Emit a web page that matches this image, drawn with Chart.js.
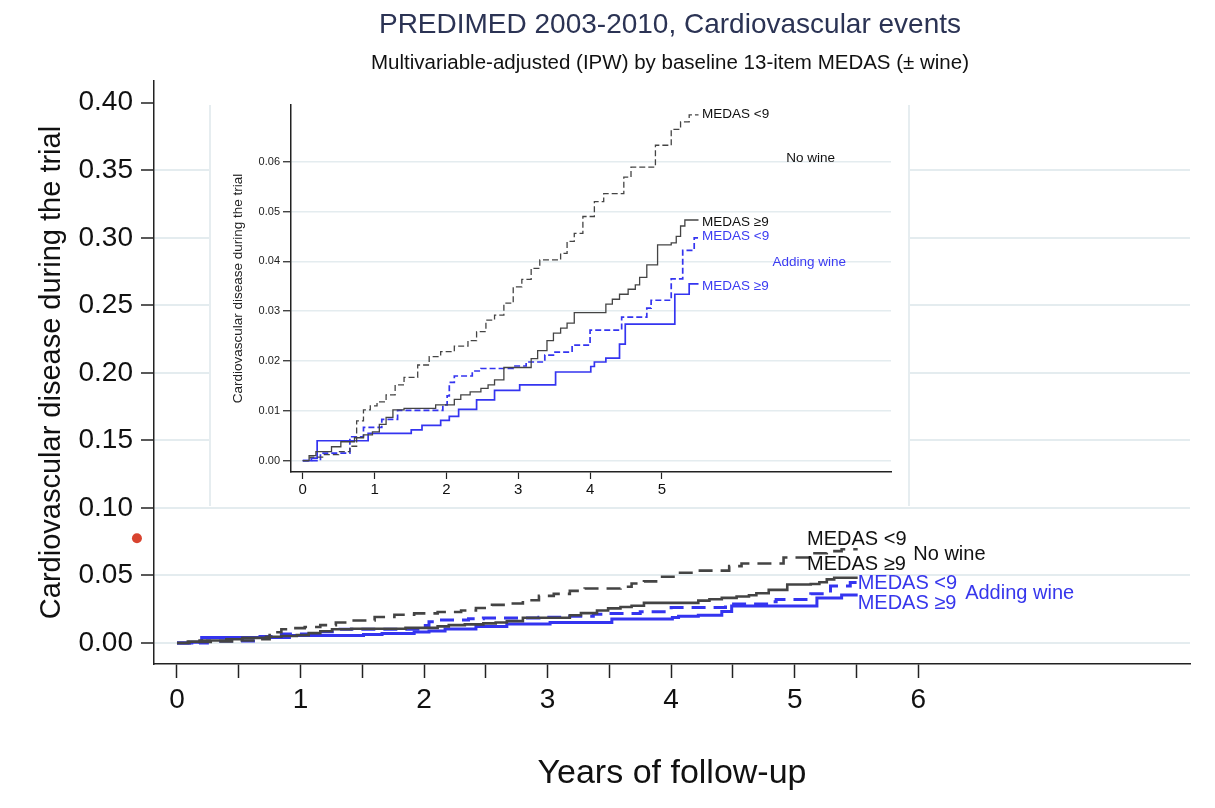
<!DOCTYPE html>
<html>
<head>
<meta charset="utf-8">
<script src="https://cdn.jsdelivr.net/npm/chart.js@4.4.0/dist/chart.umd.min.js"></script>
<style>
  html, body { margin: 0; padding: 0; background: #fff; overflow: hidden; }
  #page { position: relative; width: 1215px; height: 808px; font-family: "Liberation Sans", Arial, sans-serif; }
  #main { position: absolute; left: 0; top: 0; }
  #insetBox { position: absolute; left: 209px; top: 105px; width: 697px; height: 401px; background: #fff;
              border-left: 2px solid #e6edf0; border-right: 2px solid #e6edf0; }
  #inset { position: absolute; left: 210px; top: 85px; }
  .ttl { position: absolute; left: 320px; width: 700px; text-align: center; white-space: nowrap; }
</style>
</head>
<body>
<div id="page">
  <canvas id="main" width="1215" height="808"></canvas>
  <div id="insetBox"></div>
  <canvas id="inset" width="697" height="423"></canvas>
  <div class="ttl" style="top:8px;font-size:28px;line-height:32px;color:#2b3354;">PREDIMED 2003-2010, Cardiovascular events</div>
  <div class="ttl" style="top:51px;font-size:20.5px;line-height:22px;color:#111;">Multivariable-adjusted (IPW) by baseline 13-item MEDAS (± wine)</div>
</div>
<script>
// cumulative incidence, step curves (time in years, proportion)
const noWineLowT = [0, 0.10, 0.30, 0.50, 0.656, 0.75, 0.845, 0.94, 1.034, 1.16, 1.286, 1.41, 1.60, 1.76, 1.92, 2.11, 2.30, 2.42, 2.55, 2.67, 2.80, 2.93, 3.05, 3.18, 3.30, 3.59, 3.68, 3.78, 3.90, 4.06, 4.19, 4.47, 4.57, 4.91, 5.13, 5.26, 5.38, 5.51];
const noWineLowV = [0, 0.0007, 0.0012, 0.0018, 0.0029, 0.008, 0.0102, 0.011, 0.0118, 0.0132, 0.0152, 0.0167, 0.0192, 0.0209, 0.0219, 0.023, 0.0241, 0.0259, 0.0282, 0.0292, 0.0316, 0.0349, 0.0364, 0.0386, 0.0403, 0.0416, 0.044, 0.0456, 0.049, 0.052, 0.0536, 0.0569, 0.0589, 0.0633, 0.0665, 0.068, 0.0694, 0.0694];

const noWineHighT = [0, 0.088, 0.183, 0.40, 0.53, 0.72, 0.845, 0.97, 1.066, 1.16, 1.255, 1.41, 1.85, 2.11, 2.20, 2.33, 2.48, 2.58, 2.67, 2.80, 3.18, 3.27, 3.40, 3.49, 3.59, 3.68, 3.78, 4.22, 4.31, 4.41, 4.53, 4.63, 4.69, 4.79, 4.94, 5.13, 5.20, 5.26, 5.32, 5.51];
const noWineHighV = [0, 0.001, 0.0018, 0.0028, 0.0038, 0.0046, 0.0052, 0.0058, 0.0073, 0.0087, 0.0102, 0.0105, 0.0112, 0.0123, 0.0132, 0.0138, 0.0145, 0.0152, 0.0162, 0.0187, 0.0205, 0.0221, 0.0241, 0.0256, 0.0266, 0.0276, 0.0297, 0.0314, 0.0324, 0.0334, 0.0344, 0.0353, 0.0368, 0.0393, 0.0433, 0.0437, 0.045, 0.0471, 0.0483, 0.0483];

const wineLowT = [0, 0.246, 0.656, 0.845, 1.10, 1.32, 1.95, 2.01, 2.04, 2.11, 2.36, 2.48, 2.93, 3.11, 3.37, 3.49, 3.75, 4.0, 4.44, 4.79, 4.85, 5.13, 5.29, 5.45, 5.51];
const wineLowV = [0, 0.0015, 0.0048, 0.0067, 0.0083, 0.0101, 0.0112, 0.013, 0.0157, 0.017, 0.018, 0.0185, 0.019, 0.0198, 0.0212, 0.0218, 0.0232, 0.0262, 0.0288, 0.0306, 0.0322, 0.0365, 0.0422, 0.0447, 0.0447];

const wineHighT = [0, 0.12, 0.20, 0.91, 1.51, 1.66, 1.92, 2.04, 2.17, 2.42, 2.67, 3.02, 3.52, 4.01, 4.06, 4.22, 4.41, 4.49, 5.18, 5.38, 5.51];
const wineHighV = [0, 0.0005, 0.004, 0.0055, 0.0062, 0.0071, 0.0081, 0.0089, 0.0103, 0.0122, 0.0141, 0.0152, 0.0178, 0.0189, 0.0198, 0.0206, 0.0234, 0.0274, 0.0334, 0.0355, 0.0355];

// tick labels
const mainXTicks = [0, 0.5, 1, 1.5, 2, 2.5, 3, 3.5, 4, 4.5, 5, 5.5, 6];
const mainYTicks = [0, 0.05, 0.10, 0.15, 0.20, 0.25, 0.30, 0.35, 0.40];
const insetXTicks = [0, 1, 2, 3, 4, 5];
const insetYTicks = [0, 0.01, 0.02, 0.03, 0.04, 0.05, 0.06];

// curve labels
const labelTexts  = ['MEDAS <9', 'No wine', 'MEDAS ≥9', 'MEDAS <9', 'Adding wine', 'MEDAS ≥9'];
const labelGroup  = ['no', 'no', 'no', 'wine', 'wine', 'wine'];
const mainLabelX  = [5.10, 5.96, 5.10, 5.51, 6.38, 5.51];
const mainLabelY  = [0.0763, 0.0652, 0.0578, 0.0444, 0.0363, 0.0296];
const insetLabelX = [5.56, 6.73, 5.56, 5.56, 6.54, 5.56];
const insetLabelY = [0.0696, 0.0607, 0.0478, 0.0450, 0.0399, 0.0349];

// stray marker left of the axis
const dotX = [-0.324];
const dotY = [0.0775];

const BLACK = '#444444';
const BLUE = '#3434f0';
const FONT = '"Liberation Sans", Arial, sans-serif';
const GRID = '#e4ecef';

Chart.defaults.font.family = FONT;

const curveLabels = {
    id: 'curveLabels',
    afterDatasetsDraw(chart, args, opts) {
        const {ctx, scales: {x, y}} = chart;
        ctx.save();
        ctx.font = opts.size + 'px ' + FONT;
        ctx.textAlign = 'left';
        ctx.textBaseline = 'middle';
        labelTexts.forEach((txt, i) => {
            ctx.fillStyle = labelGroup[i] === 'no' ? '#111' : opts.blue;
            ctx.fillText(txt, x.getPixelForValue(opts.xs[i]), y.getPixelForValue(opts.ys[i]));
        });
        if (opts.dots) {
            ctx.fillStyle = '#d8432f';
            dotX.forEach((dx, i) => {
                ctx.beginPath();
                ctx.arc(x.getPixelForValue(dx), y.getPixelForValue(dotY[i]), 5, 0, Math.PI * 2);
                ctx.fill();
            });
        }
        ctx.restore();
    }
};

function stepSet(ts, vs, color, dash, width) {
    return {
        data: ts.map((t, i) => ({x: t, y: vs[i]})),
        borderColor: color,
        borderWidth: width,
        borderDash: dash,
        stepped: 'before',
        fill: false,
        pointRadius: 0
    };
}

function curves(w, dash) {
    return [
        stepSet(noWineLowT, noWineLowV, BLACK, dash, w),
        stepSet(noWineHighT, noWineHighV, BLACK, [], w),
        stepSet(wineLowT, wineLowV, BLUE, dash, w + 0.4),
        stepSet(wineHighT, wineHighV, BLUE, [], w + 0.4)
    ];
}

new Chart(document.getElementById('main'), {
    type: 'line',
    data: {datasets: curves(2.6, [14, 8])},
    options: {
        responsive: false,
        animation: false,
        layout: {padding: {top: 81, right: 25, left: 0, bottom: 0}},
        plugins: {
            legend: {display: false},
            tooltip: {enabled: false},
            curveLabels: {xs: mainLabelX, ys: mainLabelY, size: 20, blue: '#3636ec', dots: true}
        },
        scales: {
            x: {
                type: 'linear', min: -0.186, max: 8.2,
                afterFit: s => { s.height = 144; },
                afterBuildTicks: s => { s.ticks = mainXTicks.map(v => ({value: v})); },
                grid: {drawOnChartArea: false, tickLength: 14, tickColor: '#222', tickWidth: 1.5},
                border: {color: '#222', width: 1.5},
                ticks: {font: {size: 28}, color: '#111', padding: 5, autoSkip: false, maxRotation: 0,
                        callback: v => Number.isInteger(v) ? String(v) : ''},
                title: {display: true, text: 'Years of follow-up', font: {size: 34}, color: '#111', padding: {bottom: 14}}
            },
            y: {
                min: -0.01555, max: 0.4161,
                afterFit: s => { s.width = 154; },
                afterBuildTicks: s => { s.ticks = mainYTicks.map(v => ({value: v})); },
                grid: {color: c => (c.tick && c.tick.value > 0.39) ? 'rgba(0,0,0,0)' : GRID, lineWidth: 2,
                       tickLength: 13, tickColor: '#222', tickWidth: 1.5},
                border: {color: '#222', width: 1.5},
                ticks: {font: {size: 28}, color: '#111', padding: 8, callback: v => v.toFixed(2)},
                title: {display: true, text: 'Cardiovascular disease during the trial', font: {size: 29}, color: '#111', padding: {top: 35}}
            }
        }
    },
    plugins: [curveLabels]
});

new Chart(document.getElementById('inset'), {
    type: 'line',
    data: {datasets: curves(1.3, [6, 3])},
    options: {
        responsive: false,
        animation: false,
        layout: {padding: {top: 20, right: 16, left: 0, bottom: 0}},
        plugins: {
            legend: {display: false},
            tooltip: {enabled: false},
            curveLabels: {xs: insetLabelX, ys: insetLabelY, size: 13.5, blue: '#3b3bf2', dots: false}
        },
        scales: {
            x: {
                type: 'linear', min: -0.164, max: 8.19,
                afterFit: s => { s.height = 36; },
                afterBuildTicks: s => { s.ticks = insetXTicks.map(v => ({value: v})); },
                grid: {drawOnChartArea: false, tickLength: 7, tickColor: '#222', tickWidth: 1.2},
                border: {color: '#222', width: 1.5},
                ticks: {font: {size: 15}, color: '#111', padding: 2, autoSkip: false, maxRotation: 0,
                        callback: v => String(v)}
            },
            y: {
                min: -0.00227, max: 0.07138,
                afterFit: s => { s.width = 81; },
                afterBuildTicks: s => { s.ticks = insetYTicks.map(v => ({value: v})); },
                grid: {color: GRID, lineWidth: 1.5, tickLength: 8, tickColor: '#222', tickWidth: 1.2},
                border: {color: '#222', width: 1.5},
                ticks: {font: {size: 11}, color: '#222', padding: 3, callback: v => v.toFixed(2)},
                title: {display: true, text: 'Cardiovascular disease during the trial', font: {size: 13.5}, color: '#222', padding: {top: 20}}
            }
        }
    },
    plugins: [curveLabels]
});
</script>
</body>
</html>
